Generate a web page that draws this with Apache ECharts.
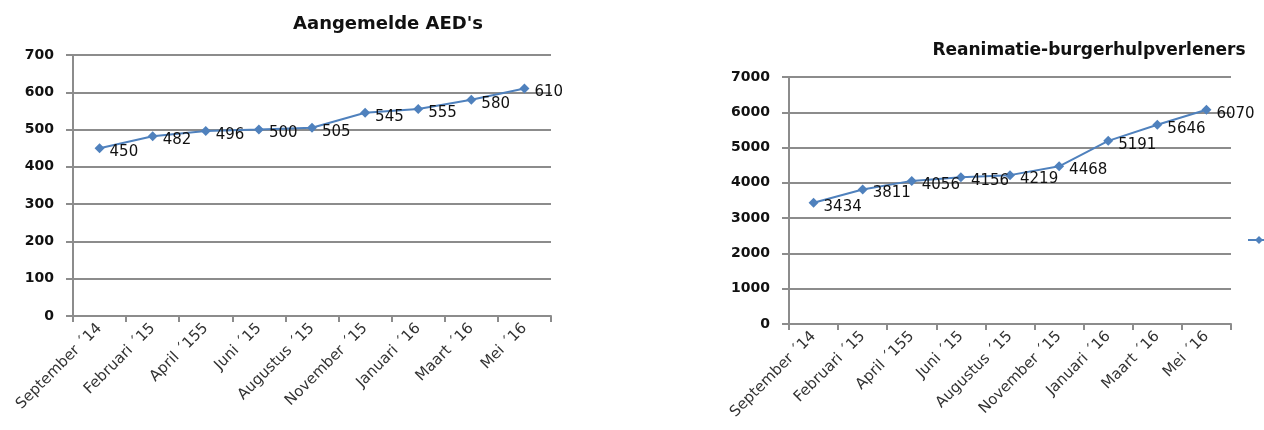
<!DOCTYPE html>
<html><head><meta charset="utf-8">
<script src="https://cdn.jsdelivr.net/npm/echarts@6/dist/echarts.min.js"></script>
<style>html,body{margin:0;padding:0;background:#fff}#c{width:1264px;height:430px}</style>
</head><body><div id="c"></div>
<script>
const categories = ["September ´14","Februari ´15","April ´155","Juni ´15","Augustus ´15","November ´15","Januari ´16","Maart ´16","Mei ´16"];
const aedValues = [450,482,496,500,505,545,555,580,610];
const burgerValues = [3434,3811,4056,4156,4219,4468,5191,5646,6070];
const title1 = "Aangemelde AED's";
const title2 = "Reanimatie-burgerhulpverleners";

const FONT = "'DejaVu Sans', sans-serif";
const lineColor = "#4F81BD";
const axisGray = "#8c8c8c";

function xAxis(gi){
  return {
    type:'category', gridIndex:gi, data:categories, boundaryGap:true,
    axisLine:{lineStyle:{color:axisGray,width:2}},
    axisTick:{show:true,length:6,lineStyle:{color:axisGray,width:2}},
    axisLabel:{rotate:45,fontFamily:FONT,fontSize:15,color:'#333',margin:10}
  };
}
function yAxis(gi,max,interval){
  return {
    type:'value', gridIndex:gi, min:0, max:max, interval:interval,
    axisLine:{show:true,lineStyle:{color:axisGray,width:2}},
    axisTick:{show:true,length:7,lineStyle:{color:axisGray,width:2}},
    splitLine:{lineStyle:{color:axisGray,width:2}},
    axisLabel:{fontFamily:FONT,fontSize:14,fontWeight:'bold',color:'#111',margin:19,formatter:v=>String(v)}
  };
}
function series(name,gi,data){
  return {
    name:name, type:'line', xAxisIndex:gi, yAxisIndex:gi, data:data,
    symbol:'diamond', symbolSize:10, color:lineColor,
    lineStyle:{color:lineColor,width:2},
    itemStyle:{color:lineColor},
    label:{show:true,position:'right',distance:5,offset:[0,4],fontFamily:FONT,fontSize:15,color:'#111'},
    animation:false
  };
}
const chart = echarts.init(document.getElementById('c'));
chart.setOption({
  animation:false,
  title:[
    {text:title1,left:383,top:10,textAlign:'center',textStyle:{fontFamily:FONT,fontSize:18,fontWeight:'bold',color:'#111'}},
    {text:title2,left:1084,top:37,textAlign:'center',textStyle:{fontFamily:FONT,fontSize:17,fontWeight:'bold',color:'#111'}}
  ],
  legend:{show:true,left:1247,top:233,padding:0,data:['Reanimatie-burgerhulpverleners'],itemWidth:22,itemHeight:10,textStyle:{fontFamily:FONT,fontSize:14}},
  grid:[
    {left:73,top:55,right:1264-551,bottom:430-316,containLabel:false},
    {left:789,top:77,right:1264-1231,bottom:430-324,containLabel:false}
  ],
  xAxis:[xAxis(0),xAxis(1)],
  yAxis:[yAxis(0,700,100),yAxis(1,7000,1000)],
  series:[series("Aangemelde AED's",0,aedValues),series('Reanimatie-burgerhulpverleners',1,burgerValues)]
});
</script></body></html>
